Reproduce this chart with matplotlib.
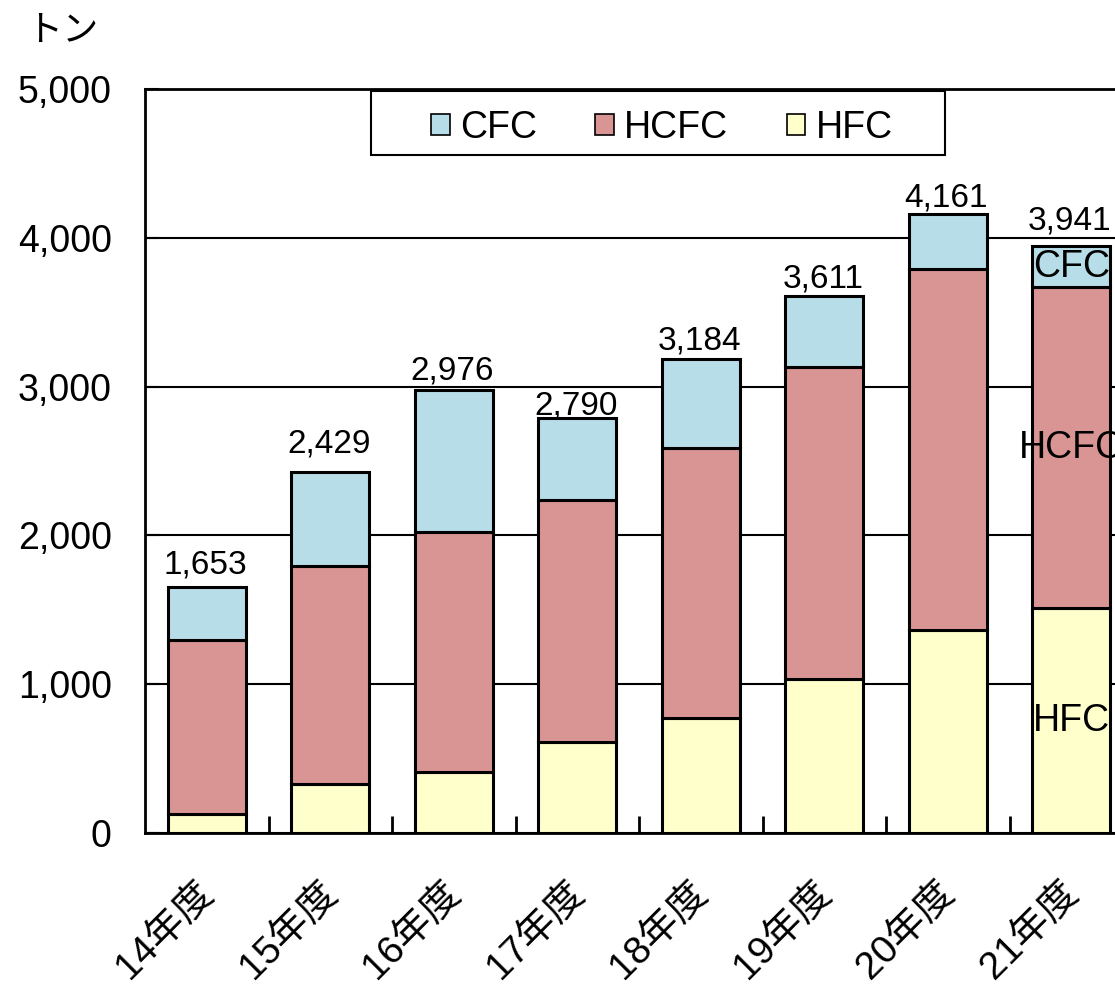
import matplotlib
matplotlib.use("Agg")
import matplotlib.pyplot as plt
import matplotlib.ticker as mticker
from matplotlib.patches import Patch, Rectangle
from matplotlib.transforms import ScaledTranslation

plt.rcParams["font.family"] = ["Liberation Sans", "Noto Sans CJK JP", "DejaVu Sans"]

# 冷媒の種類別回収量（トン）
years = ["14年度", "15年度", "16年度", "17年度", "18年度", "19年度", "20年度", "21年度"]
hfc = [130, 331, 412, 615, 776, 1034, 1368, 1511]
hcfc = [1168, 1465, 1612, 1623, 1814, 2096, 2421, 2158]
cfc = [355, 633, 952, 552, 594, 481, 372, 272]

series_names = ["CFC", "HCFC", "HFC"]
colors = {"CFC": "#b7dde8", "HCFC": "#d99594", "HFC": "#ffffcc"}

# gap (px) between each total label's baseline and its bar top
label_gap = [14, 19, 11, 3, 10, 8, 7, 17]

W, H, DPI = 1115, 985, 100
fig = plt.figure(figsize=(W / DPI, H / DPI), dpi=DPI)
# plot area runs a little past the right edge of the canvas
ax = fig.add_axes([145 / W, (H - 833.3) / H, 988 / W, 744.5 / H])

x = list(range(len(years)))
bw = 0.63
edge = dict(edgecolor="black", linewidth=2.2, zorder=3)

ax.bar(x, hfc, bw, color=colors["HFC"], **edge)
ax.bar(x, hcfc, bw, bottom=hfc, color=colors["HCFC"], **edge)
bottom3 = [a + b for a, b in zip(hfc, hcfc)]
ax.bar(x, cfc, bw, bottom=bottom3, color=colors["CFC"], **edge)

totals = [a + b for a, b in zip(bottom3, cfc)]
for xi, t, g in zip(x, totals, label_gap):
    ax.annotate(f"{t:,}", (xi, t), xytext=(-1, g * 0.72), textcoords="offset points",
                ha="center", va="baseline", fontsize=24, zorder=5)

# series names written inside the last bar
last = len(years) - 1
seg_mid = {
    "HFC": hfc[last] / 2,
    "HCFC": hfc[last] + hcfc[last] / 2,
    "CFC": bottom3[last] + cfc[last] / 2,
}
for name, ym in seg_mid.items():
    ax.text(last, ym, name, ha="center", va="center", fontsize=27, zorder=5)

ax.set_xlim(-0.5, len(years) - 0.5)
ax.set_ylim(0, 5000)
ax.yaxis.set_major_locator(mticker.MultipleLocator(1000))
ax.yaxis.set_major_formatter(mticker.FuncFormatter(lambda v, _: f"{v:,.0f}"))
ax.grid(axis="y", color="black", linewidth=1.5)
ax.set_axisbelow(True)

for s in ax.spines.values():
    s.set_linewidth(2)
    s.set_color("black")

ax.tick_params(axis="y", direction="in", length=10, width=1.5, pad=24, labelsize=27)
ax.set_xticks(x)
ax.set_xticklabels(years, rotation=45, ha="right", va="top",
                   rotation_mode="anchor", fontsize=28)
ax.tick_params(axis="x", which="major", length=0, pad=30)
ax.set_xticks([i + 0.5 for i in x], minor=True)
ax.tick_params(axis="x", which="minor", direction="in", length=12, width=2)
shift = ScaledTranslation(-11 / DPI, 0, fig.dpi_scale_trans)
for lbl in ax.get_xticklabels():
    lbl.set_transform(lbl.get_transform() + shift)

# legend frame drawn separately so its width can be set freely
box = Rectangle((371 / W, 1 - 155 / H), (945 - 371) / W, 64 / H,
                transform=fig.transFigure, facecolor="white", edgecolor="black",
                linewidth=1.5, zorder=6)
fig.add_artist(box)
handles = [Patch(facecolor=colors[n], edgecolor="black", linewidth=1.2) for n in series_names]
leg = fig.legend(handles, series_names, loc="center",
                 bbox_to_anchor=(662 / W, 1 - 128 / H), bbox_transform=fig.transFigure,
                 ncol=3, fontsize=27, frameon=False,
                 handlelength=0.5, handleheight=0.5, handletextpad=0.27,
                 columnspacing=1.55, borderpad=0)
leg.set_zorder(7)

fig.text(26 / W, 1 - 31 / H, "トン", fontsize=26, va="center", ha="left")

fig.savefig("out.png", dpi=DPI)
